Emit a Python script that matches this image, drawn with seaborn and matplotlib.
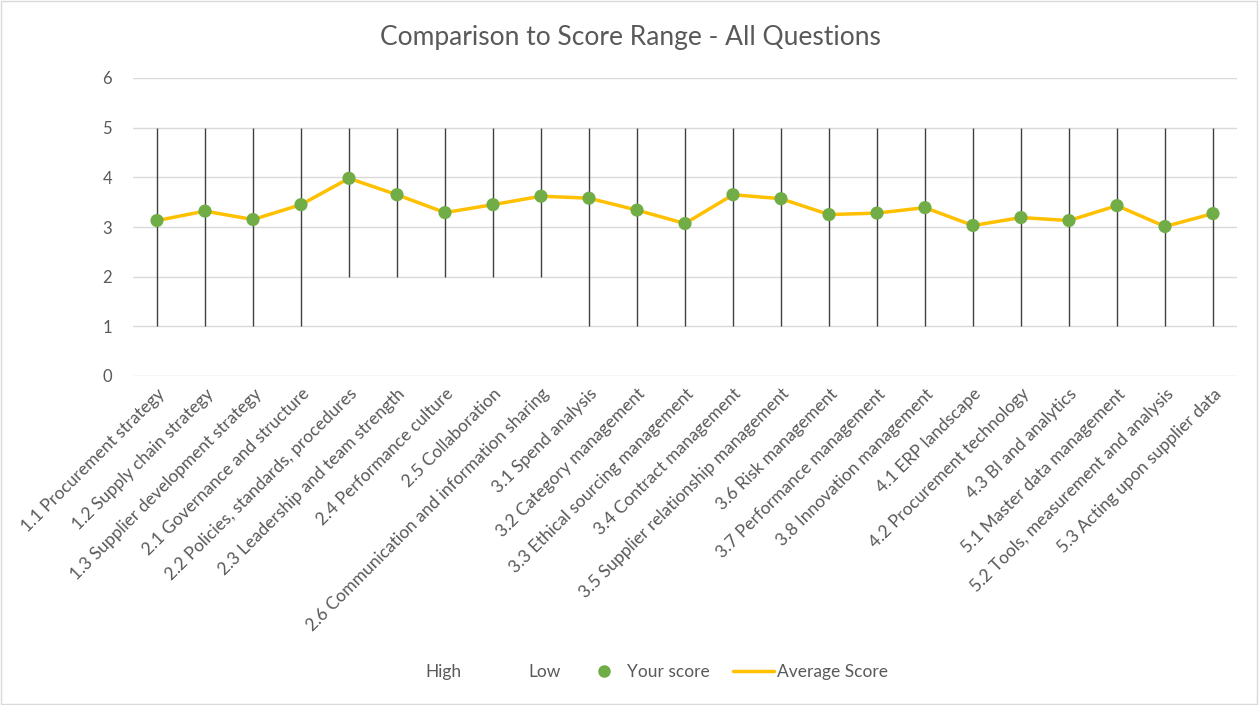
import matplotlib
matplotlib.use("Agg")
import matplotlib.pyplot as plt
import seaborn as sns
import pandas as pd
from matplotlib.lines import Line2D
from matplotlib.patches import Rectangle

categories = [
    "1.1 Procurement strategy", "1.2 Supply chain strategy", "1.3 Supplier development strategy",
    "2.1 Governance and structure", "2.2 Policies, standards, procedures", "2.3 Leadership and team strength",
    "2.4 Performance culture", "2.5 Collaboration", "2.6 Communication and information sharing",
    "3.1 Spend analysis", "3.2 Category management", "3.3 Ethical sourcing management",
    "3.4 Contract management", "3.5 Supplier relationship management", "3.6 Risk management",
    "3.7 Performance management", "3.8 Innovation management", "4.1 ERP landscape",
    "4.2 Procurement technology", "4.3 BI and analytics", "5.1 Master data management",
    "5.2 Tools, measurement and analysis", "5.3 Acting upon supplier data",
]
high = [5] * 23
low = [1, 1, 1, 1, 2, 2, 2, 2, 2, 1, 1, 1, 1, 1, 1, 1, 1, 1, 1, 1, 1, 1, 1]
your_score = [3.13, 3.32, 3.15, 3.45, 3.98, 3.65, 3.29, 3.45, 3.62, 3.58, 3.34, 3.07,
              3.65, 3.57, 3.25, 3.28, 3.39, 3.03, 3.19, 3.13, 3.43, 3.01, 3.27]
avg_score = list(your_score)
y_ticks = [0, 1, 2, 3, 4, 5, 6]

n = len(categories)
df = pd.DataFrame({"cat": categories, "x": range(n), "high": high, "low": low,
                   "your": your_score, "avg": avg_score})

sns.set_theme(style="white")
plt.rcParams["font.family"] = ["Lato", "DejaVu Sans"]
txt = "#595959"

fig = plt.figure(figsize=(12.6, 7.05), dpi=100)
ax = fig.add_axes([133 / 1260, 1 - 376 / 705, (1237 - 133) / 1260, (376 - 78) / 705])

ax.vlines(df["x"], df["low"], df["high"], color="#404040", linewidth=1.0, zorder=2)
sns.lineplot(data=df, x="x", y="avg", ax=ax, color="#FFC000", linewidth=2.5, zorder=3,
             legend=False)
sns.scatterplot(data=df, x="x", y="your", ax=ax, color="#70AD47", s=90, edgecolor="none",
                zorder=4, legend=False)

ax.set_xlim(-0.5, n - 0.5)
ax.set_ylim(0, 6)
ax.set_yticks(y_ticks)
ax.set_yticklabels([str(t) for t in y_ticks], color=txt, fontsize=12)
ax.yaxis.grid(True, color="#D9D9D9", linewidth=1.0)
ax.set_axisbelow(True)
ax.set_xticks(list(df["x"]))
ax.set_xticklabels(categories, rotation=45, ha="right", rotation_mode="anchor",
                   color=txt, fontsize=12.5)
ax.tick_params(axis="x", length=0, pad=7)
ax.tick_params(axis="y", length=0, pad=15)
for s in ax.spines.values():
    s.set_visible(False)
ax.set_xlabel("")
ax.set_ylabel("")

fig.text(0.5, 1 - 37 / 705, "Comparison to Score Range - All Questions", ha="center",
         va="center", fontsize=19, color=txt)

handles = [
    Line2D([], [], linestyle="none"),
    Line2D([], [], linestyle="none"),
    Line2D([], [], marker="o", color="#70AD47", linestyle="none", markersize=8),
    Line2D([], [], color="#FFC000", linewidth=2.5),
]
leg = fig.legend(handles, ["High", "Low", "Your score", "Average Score"], loc="center",
                 bbox_to_anchor=(0.5035, 1 - 672 / 705), ncol=4, frameon=False, fontsize=12.5,
                 handlelength=2.4, handletextpad=0.15, columnspacing=1.3)
for t in leg.get_texts():
    t.set_color(txt)

fig.patches.append(Rectangle((0.001, 0.001), 0.997, 0.997, transform=fig.transFigure,
                             fill=False, edgecolor="#D9D9D9", linewidth=1.0))

fig.savefig("out.png", dpi=100)
